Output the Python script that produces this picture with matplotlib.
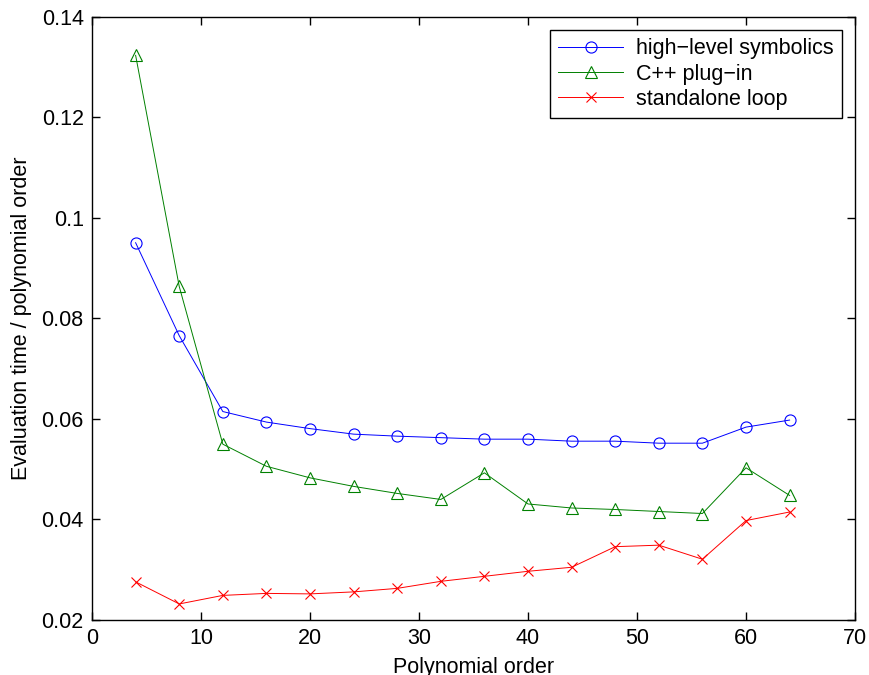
import matplotlib
matplotlib.use('Agg')
import matplotlib.pyplot as plt

# veriler
order = [4, 8, 12, 16, 20, 24, 28, 32, 36, 40, 44, 48, 52, 56, 60, 64]
symbolics = [0.0950, 0.0765, 0.0614, 0.0593, 0.0580, 0.0569, 0.0565, 0.0562,
             0.0559, 0.0559, 0.0555, 0.0555, 0.0551, 0.0551, 0.0583, 0.0597]
plugin = [0.1323, 0.0863, 0.0549, 0.0505, 0.0482, 0.0465, 0.0451, 0.0439,
          0.0492, 0.0430, 0.0422, 0.0419, 0.0415, 0.0411, 0.0502, 0.0447]
standalone = [0.0275, 0.0231, 0.0248, 0.0252, 0.0251, 0.0255, 0.0262, 0.0276,
              0.0286, 0.0296, 0.0304, 0.0345, 0.0348, 0.0320, 0.0397, 0.0414]
labels = ['high\u2212level symbolics', 'C++ plug\u2212in', 'standalone loop']

plt.rcParams['font.family'] = ['Liberation Sans', 'DejaVu Sans']
fs = 15.5

fig = plt.figure(figsize=(8.69, 6.75), dpi=100)
ax = fig.add_axes([0.1059, 0.0822, 0.878, 0.8931])

ax.plot(order, symbolics, color=(0, 0, 1), lw=0.7, marker='o', ms=8,
        mfc='none', mew=0.8, label=labels[0])
ax.plot(order, plugin, color=(0, 0.5, 0), lw=0.7, marker='^', ms=8,
        mfc='none', mew=0.8, label=labels[1])
ax.plot(order, standalone, color=(1, 0, 0), lw=0.7, marker='x', ms=6.5,
        mew=0.8, label=labels[2])

ax.set_xlim(0, 70)
ax.set_ylim(0.02, 0.14)
ax.set_xticks(range(0, 71, 10))
ax.set_yticks([0.02, 0.04, 0.06, 0.08, 0.1, 0.12, 0.14])
ax.set_yticklabels(['0.02', '0.04', '0.06', '0.08', '0.1', '0.12', '0.14'])
ax.tick_params(direction='in', length=6, width=1, top=True, right=True,
               labelsize=fs, pad=6)
for s in ax.spines.values():
    s.set_linewidth(1.0)

ax.set_xlabel('Polynomial order', fontsize=fs, labelpad=6)
ax.set_ylabel('Evaluation time / polynomial order', fontsize=fs, labelpad=7)

leg = ax.legend(loc='upper right', fontsize=fs, fancybox=False,
                framealpha=1, edgecolor='black', borderaxespad=0.6,
                handlelength=3.0, labelspacing=0.2, borderpad=0.4,
                handletextpad=0.6)
leg.get_frame().set_linewidth(1.0)

fig.savefig('out.png', dpi=100)
